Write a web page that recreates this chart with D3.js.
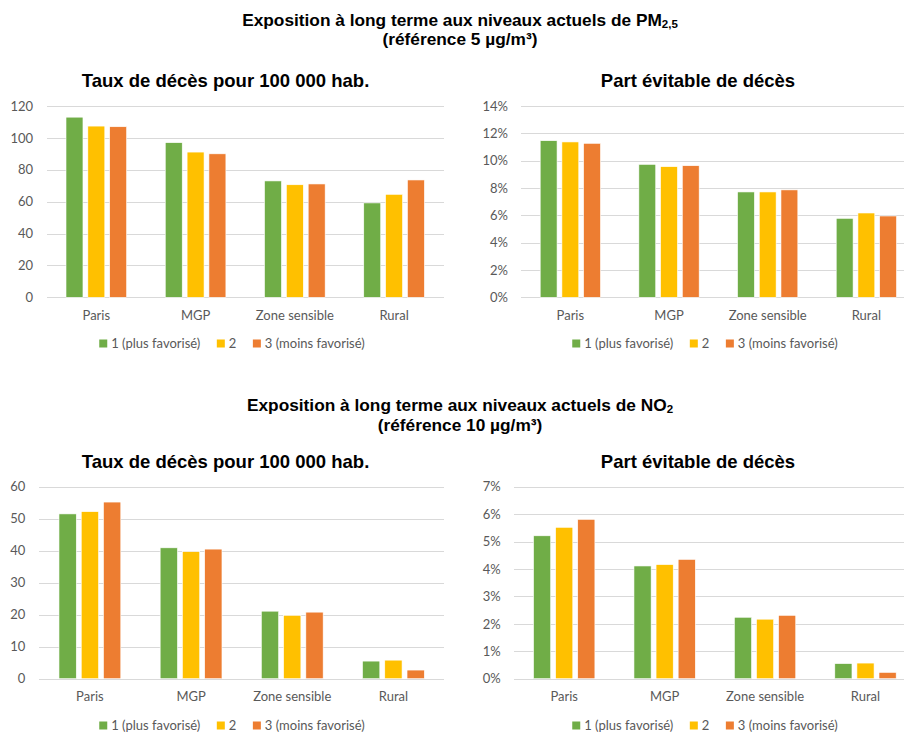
<!DOCTYPE html>
<html><head><meta charset="utf-8">
<script src="https://cdn.jsdelivr.net/npm/d3@7"></script>
<style>
html,body{margin:0;padding:0;background:#fff;}
svg{display:block;}
.tick text{font-family:Lato,"Open Sans",sans-serif;font-size:13px;fill:#595959;}
</style></head>
<body>
<svg id="chart" width="904" height="734"></svg>
<script>
// ---- data ----
const categories = ["Paris", "MGP", "Zone sensible", "Rural"];
const seriesNames = ["1 (plus favorisé)", "2", "3 (moins favorisé)"];
const seriesColors = ["#70AD47", "#FFC000", "#ED7D31"];

const pmTaux1 = [113, 97, 73, 59.2];
const pmTaux2 = [107.4, 91.1, 70.6, 64.6];
const pmTaux3 = [107, 90, 71.1, 73.6];

const pmPart1 = [11.46, 9.73, 7.71, 5.78];
const pmPart2 = [11.37, 9.56, 7.71, 6.17];
const pmPart3 = [11.27, 9.63, 7.86, 5.95];

const no2Taux1 = [51.5, 40.9, 21.1, 5.5];
const no2Taux2 = [52.2, 39.7, 19.8, 5.8];
const no2Taux3 = [55.2, 40.5, 20.8, 2.7];

const no2Part1 = [5.21, 4.11, 2.24, 0.55];
const no2Part2 = [5.52, 4.16, 2.17, 0.57];
const no2Part3 = [5.81, 4.35, 2.31, 0.23];

const pmTauxTicks = [0, 20, 40, 60, 80, 100, 120];
const pmPartTicks = [0, 2, 4, 6, 8, 10, 12, 14];
const no2TauxTicks = [0, 10, 20, 30, 40, 50, 60];
const no2PartTicks = [0, 1, 2, 3, 4, 5, 6, 7];

const subtitleTaux = "Taux de décès pour 100 000 hab.";
const subtitlePart = "Part évitable de décès";

// ---- drawing ----
const svg = d3.select("#chart");
const TITLE_FONT = "'Liberation Sans', Arial, sans-serif";
const BODY_FONT = "Lato, 'Open Sans', sans-serif";

function mainTitle(y, pollutant, sub, ref) {
  const t = svg.append("text").attr("x", 460).attr("y", y).attr("text-anchor", "middle")
    .attr("font-family", TITLE_FONT).attr("font-weight", "bold").attr("font-size", 17.3).attr("fill", "#000");
  t.append("tspan").text("Exposition à long terme aux niveaux actuels de " + pollutant);
  t.append("tspan").attr("font-size", 11.5).attr("dy", 2).text(sub);
  svg.append("text").attr("x", 460).attr("y", y + 19.5).attr("text-anchor", "middle")
    .attr("font-family", TITLE_FONT).attr("font-weight", "bold").attr("font-size", 17.3).attr("fill", "#000")
    .text("(référence " + ref + " µg/m³)");
}

function panel(cfg, s1, s2, s3) {
  const g = svg.append("g");
  const series = [s1, s2, s3];
  const x = d3.scaleBand().domain(categories).range([cfg.x0, cfg.x1]).paddingInner(0.389).paddingOuter(0.1945);
  const xs = d3.scaleBand().domain(d3.range(3)).range([0, x.bandwidth()]).paddingInner(0.223).paddingOuter(0);
  const y = d3.scaleLinear().domain([0, cfg.max]).range([cfg.yBot, cfg.yTop]);
  const w = cfg.x1 - cfg.x0;

  const ya = g.append("g").attr("transform", `translate(${cfg.x0},0)`)
    .call(d3.axisLeft(y).tickValues(cfg.ticks).tickSize(-w).tickPadding(cfg.x0 - cfg.labelX).tickFormat(cfg.fmt));
  ya.select(".domain").remove();
  ya.selectAll(".tick line").attr("stroke", "#d9d9d9").attr("stroke-width", 1).attr("shape-rendering", "crispEdges");

  const xa = g.append("g").attr("transform", `translate(0,${cfg.yBot})`)
    .call(d3.axisBottom(x).tickSize(0).tickPadding(13.5));
  xa.select(".domain").remove();

  categories.forEach((c, ci) => {
    series.forEach((vals, si) => {
      g.append("rect")
        .attr("x", x(c) + xs(si))
        .attr("width", xs.bandwidth())
        .attr("y", y(vals[ci]))
        .attr("height", y(0) - y(vals[ci]))
        .attr("fill", seriesColors[si])
        .attr("stroke", "#ffffff").attr("stroke-width", 0.6);
    });
  });

  g.append("text").attr("x", cfg.subX).attr("y", cfg.subY).attr("text-anchor", "middle")
    .attr("font-family", TITLE_FONT).attr("font-weight", "bold").attr("font-size", 18.5).attr("fill", "#000")
    .text(cfg.subtitle);

  // legend
  const lg = g.append("g");
  let cx = 0;
  const items = [];
  seriesNames.forEach((n, i) => {
    const it = lg.append("g");
    it.append("rect").attr("x", 0).attr("y", -4).attr("width", 8).attr("height", 8).attr("fill", seriesColors[i]);
    const tx = it.append("text").attr("x", 12).attr("y", 4).attr("font-family", BODY_FONT)
      .attr("font-size", 13).attr("fill", "#595959").text(n);
    const tw = tx.node().getComputedTextLength();
    it.attr("transform", `translate(${cx},0)`);
    cx += 12 + tw + 16.5;
    items.push(it);
  });
  const total = cx - 16.5;
  lg.attr("transform", `translate(${cfg.legendCx - total / 2},${cfg.legendY})`);
}

const fmtNum = d => String(d);
const fmtPct = d => d + "%";

mainTitle(25.5, "PM", "2,5", "5");
mainTitle(411, "NO", "2", "10");

panel({x0: 46.7, x1: 443.7, yTop: 106, yBot: 297.3, max: 120, ticks: pmTauxTicks, fmt: fmtNum, labelX: 33,
       subtitle: subtitleTaux, subX: 225.5, subY: 86.5, legendCx: 232, legendY: 343.5}, pmTaux1, pmTaux2, pmTaux3);
panel({x0: 521, x1: 915.7, yTop: 106, yBot: 297.3, max: 14, ticks: pmPartTicks, fmt: fmtPct, labelX: 508,
       subtitle: subtitlePart, subX: 698, subY: 86.5, legendCx: 705, legendY: 343.5}, pmPart1, pmPart2, pmPart3);
panel({x0: 39.3, x1: 444, yTop: 486.7, yBot: 678.7, max: 60, ticks: no2TauxTicks, fmt: fmtNum, labelX: 25.3,
       subtitle: subtitleTaux, subX: 225.5, subY: 468, legendCx: 232, legendY: 725.5}, no2Taux1, no2Taux2, no2Taux3);
panel({x0: 514, x1: 915.7, yTop: 486.7, yBot: 678.7, max: 7, ticks: no2PartTicks, fmt: fmtPct, labelX: 500.7,
       subtitle: subtitlePart, subX: 698, subY: 468, legendCx: 705, legendY: 725.5}, no2Part1, no2Part2, no2Part3);
</script>
</body></html>
